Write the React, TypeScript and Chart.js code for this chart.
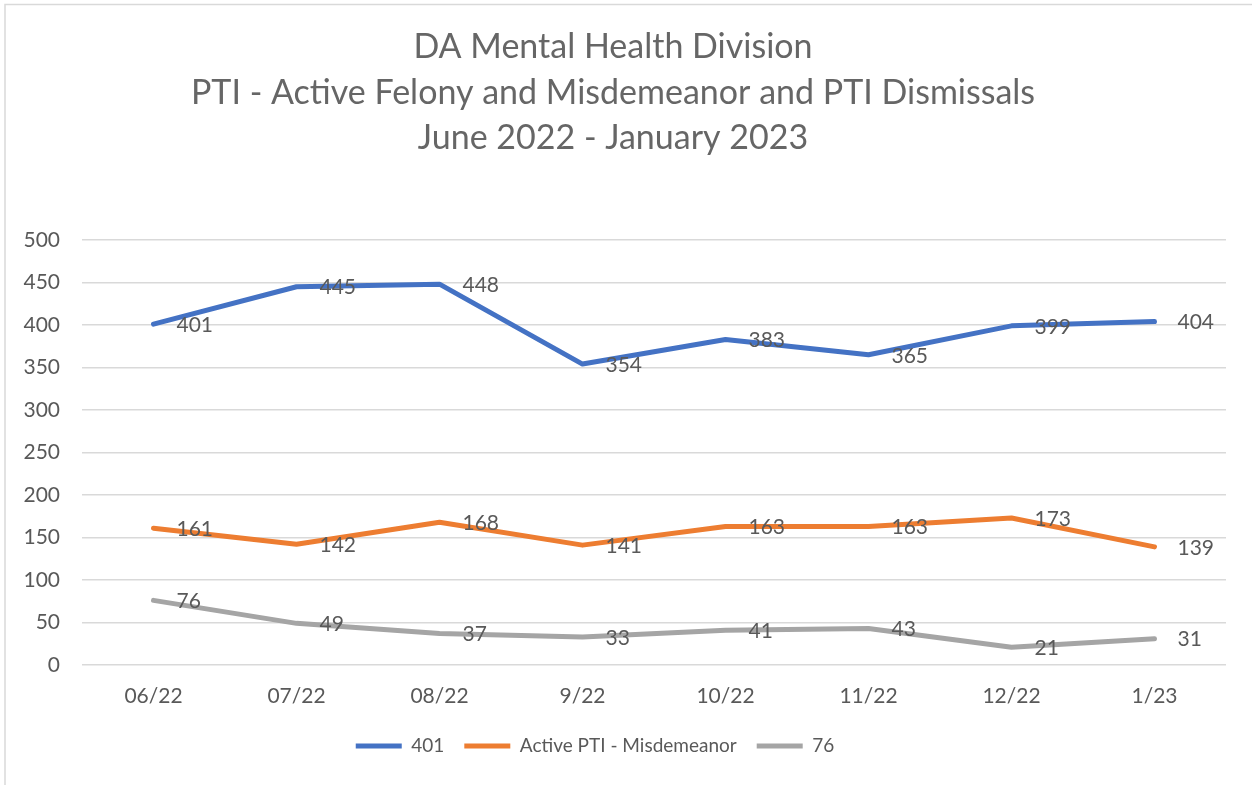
import React, { useEffect, useRef } from "react";
import { Chart, registerables } from "chart.js";

Chart.register(...registerables);

const categories = ["06/22", "07/22", "08/22", "9/22", "10/22", "11/22", "12/22", "1/23"];
const felonyValues = [401, 445, 448, 354, 383, 365, 399, 404];
const misdemeanorValues = [161, 142, 168, 141, 163, 163, 173, 139];
const dismissalValues = [76, 49, 37, 33, 41, 43, 21, 31];
const seriesNames = ["401", "Active PTI - Misdemeanor", "76"];
const titleLines = [
  "DA Mental Health Division",
  "PTI - Active Felony and Misdemeanor and PTI Dismissals",
  "June 2022 - January 2023",
];

const FONT = "Lato";
const TEXT = "#595959";

const dataLabelPlugin = {
  id: "dataLabels",
  afterDatasetsDraw(chart: any) {
    const ctx = chart.ctx;
    ctx.save();
    ctx.font = `21px ${FONT}`;
    ctx.fillStyle = TEXT;
    ctx.textAlign = "left";
    ctx.textBaseline = "middle";
    chart.data.datasets.forEach((ds: any, i: number) => {
      const meta = chart.getDatasetMeta(i);
      meta.data.forEach((pt: any, j: number) => {
        ctx.fillText(String(ds.data[j]), pt.x + 23, pt.y + 1);
      });
    });
    ctx.restore();
  },
};

const legendShiftPlugin = {
  id: "legendShift",
  afterLayout(chart: any) {
    const lg = chart.legend;
    if (lg) {
      lg.left -= 18;
      lg.right -= 18;
    }
  },
};

const framePlugin = {
  id: "frame",
  beforeDraw(chart: any) {
    const ctx = chart.ctx;
    ctx.save();
    ctx.fillStyle = "#ffffff";
    ctx.fillRect(0, 0, chart.width, chart.height);
    ctx.strokeStyle = "#d9d9d9";
    ctx.lineWidth = 1.5;
    ctx.beginPath();
    ctx.moveTo(5, chart.height);
    ctx.lineTo(5, 4.5);
    ctx.lineTo(chart.width, 4.5);
    ctx.stroke();
    ctx.restore();
  },
};

export default function App() {
  const ref = useRef<HTMLCanvasElement | null>(null);
  useEffect(() => {
    document.body.style.margin = "0";
    const canvas = ref.current;
    if (!canvas) return;
    const mk = (label: string, data: number[], color: string) => ({
      label,
      data,
      borderColor: color,
      backgroundColor: color,
      borderWidth: 5,
      borderCapStyle: "round" as const,
      borderJoinStyle: "round" as const,
      pointRadius: 0,
      pointHoverRadius: 0,
      tension: 0,
      fill: false,
    });
    const chart = new Chart(canvas, {
      type: "line",
      data: {
        labels: categories,
        datasets: [
          mk(seriesNames[0], felonyValues, "#4472C4"),
          mk(seriesNames[1], misdemeanorValues, "#ED7D31"),
          mk(seriesNames[2], dismissalValues, "#A5A5A5"),
        ],
      },
      options: {
        responsive: false,
        animation: false,
        layout: { padding: { left: 0, right: 26, top: 0, bottom: 19.5 } },
        plugins: {
          tooltip: { enabled: false },
          title: {
            display: true,
            text: titleLines,
            color: "#666666",
            font: { family: FONT, size: 34, weight: "normal", lineHeight: 1.34 },
            padding: { top: 24.2, bottom: 79.1 },
          },
          legend: {
            position: "bottom",
            labels: {
              color: TEXT,
              font: { family: FONT, size: 19 },
              usePointStyle: true,
              pointStyle: "line",
              pointStyleWidth: 46,
              padding: 20,
            },
          },
        },
        scales: {
          x: {
            offset: true,
            grid: { display: false, drawTicks: false },
            border: { display: false },
            ticks: { color: TEXT, font: { family: FONT, size: 21 }, padding: 19, maxRotation: 0 },
            afterFit(scale: any) {
              scale.height = 51.5;
            },
          },
          y: {
            min: 0,
            max: 500,
            ticks: { stepSize: 50, color: TEXT, font: { family: FONT, size: 21 }, padding: 22 },
            grid: { color: "#d9d9d9", lineWidth: 1.5, drawTicks: false },
            border: { display: false },
            afterFit(scale: any) {
              scale.width = 82;
            },
          },
        },
      },
      plugins: [framePlugin, legendShiftPlugin, dataLabelPlugin],
    } as any);
    return () => chart.destroy();
  }, []);
  return (
    <div style={{ width: 1252, height: 785, position: "relative" }}>
      <canvas ref={ref} width={1252} height={785} />
    </div>
  );
}
